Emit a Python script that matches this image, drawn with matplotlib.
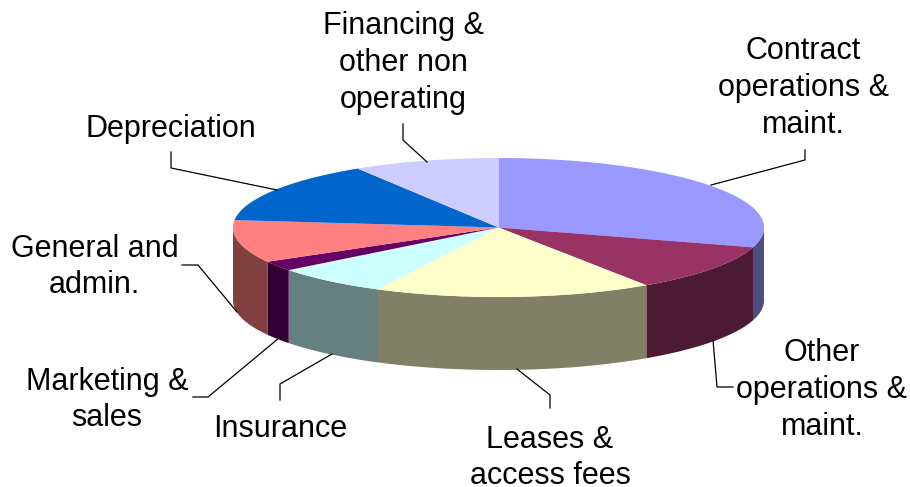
import numpy as np
import matplotlib
matplotlib.use("Agg")
import matplotlib.pyplot as plt
from matplotlib.patches import Polygon

# share of cost, clockwise from 12 o'clock
categories = ["Contract\noperations &\nmaint.", "Other\noperations &\nmaint.", "Leases &\naccess fees",
              "Insurance", "Marketing &\nsales", "General and\nadmin.", "Depreciation",
              "Financing &\nother non\noperating"]
values = [29.6, 11.0, 16.9, 7.0, 2.3, 9.9, 14.4, 8.9]
top_colors = ["#9999ff", "#993366", "#ffffcc", "#ccffff", "#660066", "#ff8080", "#0066cc", "#ccccff"]
side_colors = ["#4d4d80", "#4d1a33", "#808066", "#668080", "#330033", "#804040", "#003366", "#666680"]

label_pos = [(803, 88), (822, 390), (550, 458), (280, 429), (107, 400), (94.5, 267), (171, 129), (403, 63)]
leaders = [
    [(711, 185), (805, 160), (805, 150)],
    [(713, 340), (717, 387), (733, 387)],
    [(517, 369), (550, 395), (550, 408)],
    [(332, 354), (280, 384), (280, 400)],
    [(279, 338), (208, 397), (193, 397)],
    [(237, 312), (198, 265), (182, 265)],
    [(277, 190), (171, 168), (171, 152)],
    [(427, 162), (403, 140), (403, 124)],
]

cx, cy = 498.5, 227.5
rx, ry = 265.5, 69.5
depth = 73


def ell(theta):
    # theta in degrees clockwise from the top of the pie
    t = np.radians(theta)
    return cx + rx * np.sin(t), cy - ry * np.cos(t)


fig = plt.figure(figsize=(9.1, 4.87), dpi=100)
ax = fig.add_axes([0, 0, 1, 1])
ax.set_xlim(0, 910)
ax.set_ylim(487, 0)
ax.axis('off')

edges = np.concatenate([[0], np.cumsum(values)]) / sum(values) * 360

# side wall, only the front half shows
for i in range(len(values)):
    a = max(edges[i], 90)
    b = min(edges[i + 1], 270)
    if b <= a:
        continue
    th = np.linspace(a, b, 80)
    x, y = ell(th)
    pts = np.r_[np.c_[x, y], np.c_[x[::-1], y[::-1] + depth]]
    ax.add_patch(Polygon(pts, closed=True, facecolor=side_colors[i], edgecolor='none', zorder=2))

# top face
for i in range(len(values)):
    th = np.linspace(edges[i], edges[i + 1], 120)
    x, y = ell(th)
    pts = np.r_[[[cx, cy]], np.c_[x, y]]
    ax.add_patch(Polygon(pts, closed=True, facecolor=top_colors[i], edgecolor='none', zorder=3))

for line in leaders:
    line = np.array(line)
    ax.plot(line[:, 0], line[:, 1], color='black', linewidth=0.9, zorder=4)

for name, (lx, ly) in zip(categories, label_pos):
    ax.text(lx, ly, name, ha='center', va='center', fontsize=22, family='Liberation Sans',
            color='black', linespacing=1.3, zorder=5)

fig.savefig("out.png", dpi=100)
